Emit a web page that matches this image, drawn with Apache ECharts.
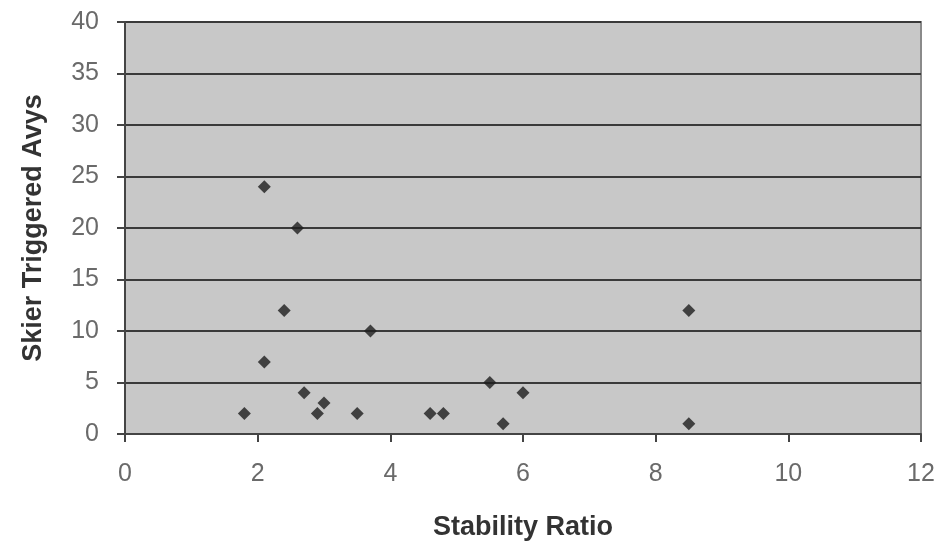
<!DOCTYPE html>
<html>
<head>
<meta charset="utf-8">
<script src="https://cdn.jsdelivr.net/npm/echarts@6/dist/echarts.min.js"></script>
<style>
  html, body { margin: 0; padding: 0; background: #fff; }
  #chart { width: 943px; height: 550px; }
</style>
</head>
<body>
<div id="chart"></div>
<script>
  // stability ratio vs number of skier triggered avalanches
  var stabilityRatio = [1.8, 2.1, 2.6, 2.4, 2.1, 2.7, 2.9, 3.0, 3.5, 3.7, 4.6, 4.8, 5.5, 6.0, 5.7, 8.5, 8.5]
  var skierAvys = [2, 24, 20, 12, 7, 4, 2, 3, 2, 10, 2, 2, 5, 4, 1, 12, 1]
  var xTicks = [0, 2, 4, 6, 8, 10, 12]
  var yTicks = [0, 5, 10, 15, 20, 25, 30, 35, 40]

  var points = []
  for (var i = 0; i < stabilityRatio.length; i++) {
    points.push([stabilityRatio[i], skierAvys[i]])
  }

  var chart = echarts.init(document.getElementById('chart'))
  chart.setOption({
    animation: false,
    backgroundColor: '#ffffff',
    grid: {
      left: 125,
      right: 22,
      top: 22,
      bottom: 116,
      show: true,
      backgroundColor: '#c8c8c8',
      borderColor: '#8a8a8a',
      borderWidth: 2,
    },
    xAxis: {
      type: 'value',
      min: xTicks[0],
      max: xTicks[xTicks.length - 1],
      interval: 2,
      name: 'Stability Ratio',
      nameLocation: 'middle',
      nameGap: 80,
      nameTextStyle: {
        fontFamily: 'Liberation Sans',
        fontWeight: 'bold',
        fontSize: 27,
        color: '#333',
      },
      axisLine: { lineStyle: { color: '#444', width: 2 } },
      axisTick: { show: true, length: 8, lineStyle: { color: '#444', width: 2 } },
      axisLabel: {
        margin: 28,
        fontFamily: 'Liberation Sans',
        fontSize: 25,
        color: '#6a6a6a',
      },
      splitLine: { show: false },
    },
    yAxis: {
      type: 'value',
      min: yTicks[0],
      max: yTicks[yTicks.length - 1],
      interval: 5,
      name: 'Skier Triggered Avys',
      nameLocation: 'middle',
      nameGap: 78,
      nameTextStyle: {
        fontFamily: 'Liberation Sans',
        fontWeight: 'bold',
        fontSize: 27,
        color: '#333',
      },
      axisLine: { show: true, lineStyle: { color: '#444', width: 2 } },
      axisTick: { show: true, length: 8, lineStyle: { color: '#444', width: 2 } },
      axisLabel: {
        margin: 26,
        fontFamily: 'Liberation Sans',
        fontSize: 25,
        color: '#6a6a6a',
      },
      splitLine: { lineStyle: { color: '#3a3a3a', width: 2 } },
    },
    series: [
      {
        type: 'scatter',
        symbol: 'diamond',
        symbolSize: 13,
        itemStyle: { color: '#1e1e1e' },
        data: points,
      },
    ],
  })
</script>
</body>
</html>
